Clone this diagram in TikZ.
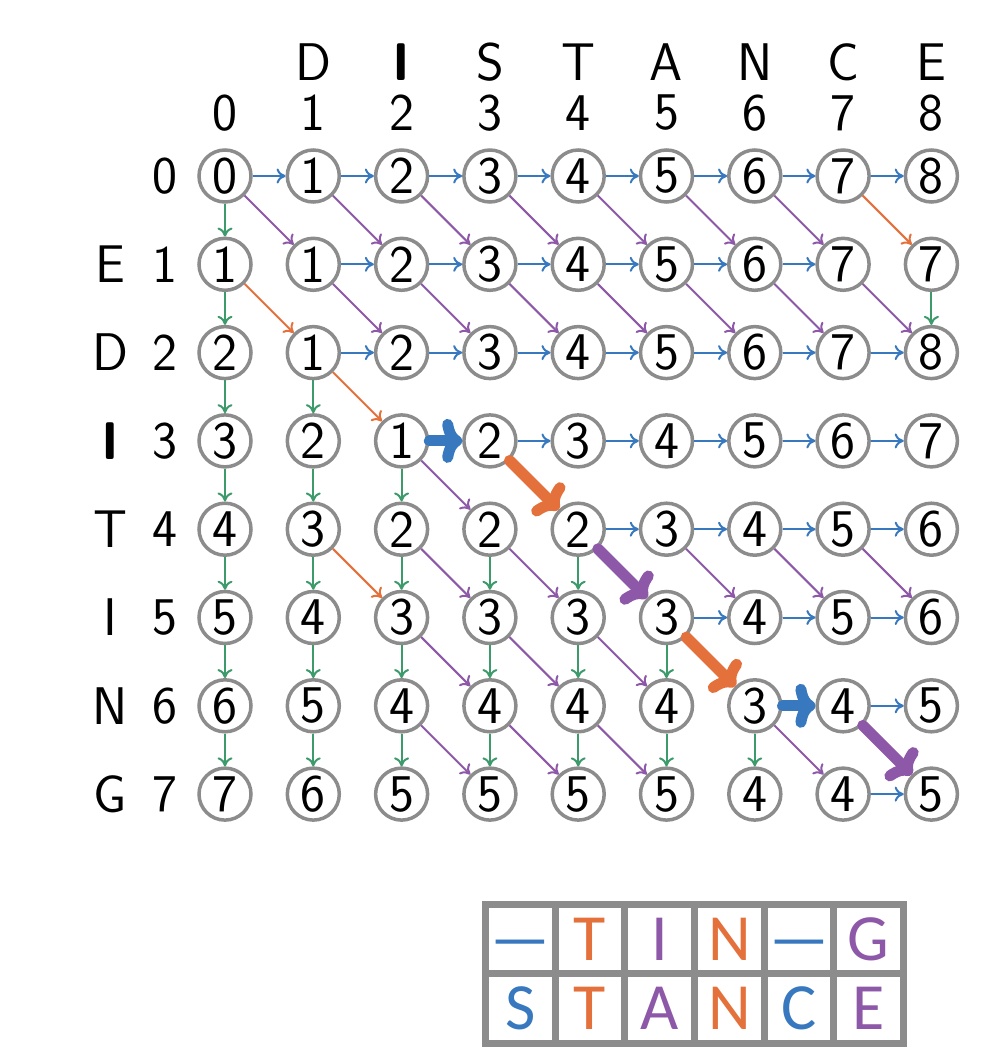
\documentclass[tikz,border=0pt]{standalone}
\usepackage{fontspec}
\newfontfamily\tablefont{Carlito}
\newfontfamily\gridfont{lmsans17-regular.otf}[BoldFont=lmsans10-bold.otf]
\usetikzlibrary{arrows.meta}
\definecolor{gapblue}{RGB}{55,120,190}
\definecolor{matchorange}{RGB}{228,112,60}
\definecolor{mismatchpurple}{RGB}{142,88,168}
\definecolor{delgreen}{RGB}{61,154,107}
\definecolor{ringgray}{RGB}{140,140,140}
\tikzstyle{cell}=[circle, draw=ringgray, line width=3.5pt, minimum size=52pt, inner sep=0pt, fill=white, font=\gridfont\fontsize{53}{60}\selectfont]
\tikzstyle{annot}=[inner sep=0pt, font=\gridfont\fontsize{53}{60}\selectfont]
\tikzstyle{thin}=[line width=2pt, -{Computer Modern Rightarrow[length=9pt,width=15pt]}]
\tikzstyle{fat}=[line width=11pt, line cap=round, -{Computer Modern Rightarrow[length=20pt,width=44pt]}]
\tikzstyle{tabletter}=[inner sep=0pt, text height=42.5pt, text depth=0pt, font=\tablefont\fontsize{66}{70}\selectfont]
\newcommand{\drawalignment}[0]
{
  \draw[line width=7pt, ringgray] (485.5,904.5) rectangle (903.5,1043.5);
  \draw[line width=7pt, ringgray] (485.5,973.5) -- (903.5,973.5);
  \foreach \k in {1,...,5}
    \draw[line width=7pt, ringgray] ({485.5+69.67*\k},904.5) -- ({485.5+69.67*\k},1043.5);
  \foreach \txt/\col [count=\k from 0] in {—/gapblue, T/matchorange, I/mismatchpurple, N/matchorange, —/gapblue, G/mismatchpurple}
    \node[tabletter, text=\col] (top-\k) at ({520.3+69.67*\k},939) {\txt};
  \foreach \txt/\col [count=\k from 0] in {S/gapblue, T/matchorange, A/mismatchpurple, N/matchorange, C/gapblue, E/mismatchpurple}
    \node[tabletter, text=\col] (bot-\k) at ({520.3+69.67*\k},1008.5) {\txt};
}

\begin{document}
\begin{tikzpicture}[x=1pt, y=-1pt]
	\useasboundingbox (0,0) rectangle (994,1062);

	% column and row headers
	\foreach \ch [count=\c] in {D,\textbf{I},S,T,A,N,C,E}
		\node[annot] (word-\c) at ({225+88.3*\c},62) {\ch};
	\foreach \c in {0,...,8}
		\node[annot] (col-\c) at ({225+88.3*\c},113) {\c};
	\foreach \ch [count=\r] in {E,D,\textbf{I},T,I,N,G}
		\node[annot] (word-r\r) at (110,{176+88.3*\r}) {\ch};
	\foreach \r in {0,...,7}
		\node[annot] (row-\r) at (165,{176+88.3*\r}) {\r};

	% distance table
	\foreach \r/\vals in {0/{0,1,2,3,4,5,6,7,8}, 1/{1,1,2,3,4,5,6,7,7}, 2/{2,1,2,3,4,5,6,7,8}, 3/{3,2,1,2,3,4,5,6,7}, 4/{4,3,2,2,2,3,4,5,6}, 5/{5,4,3,3,3,3,4,5,6}, 6/{6,5,4,4,4,4,3,4,5}, 7/{7,6,5,5,5,5,4,4,5}}
		\foreach \v [count=\c from 0] in \vals
			\node[cell] (n-\r-\c) at ({225+88.3*\c},{176+88.3*\r}) {\v};

	\foreach \a/\b in {0-0/0-1, 0-1/0-2, 0-2/0-3, 0-3/0-4, 0-4/0-5, 0-5/0-6, 0-6/0-7, 0-7/0-8, 1-1/1-2, 1-2/1-3, 1-3/1-4, 1-4/1-5, 1-5/1-6, 1-6/1-7, 2-1/2-2, 2-2/2-3, 2-3/2-4, 2-4/2-5, 2-5/2-6, 2-6/2-7, 2-7/2-8, 3-3/3-4, 3-4/3-5, 3-5/3-6, 3-6/3-7, 3-7/3-8, 4-4/4-5, 4-5/4-6, 4-6/4-7, 4-7/4-8, 5-5/5-6, 5-6/5-7, 5-7/5-8, 6-7/6-8, 7-7/7-8}
		\draw[thin, gapblue] (n-\a) -- (n-\b);
	\foreach \a/\b in {0-0/1-0, 1-0/2-0, 2-0/3-0, 3-0/4-0, 4-0/5-0, 5-0/6-0, 6-0/7-0, 2-1/3-1, 3-1/4-1, 4-1/5-1, 5-1/6-1, 6-1/7-1, 3-2/4-2, 4-2/5-2, 5-2/6-2, 6-2/7-2, 4-3/5-3, 5-3/6-3, 6-3/7-3, 4-4/5-4, 5-4/6-4, 6-4/7-4, 5-5/6-5, 6-5/7-5, 6-6/7-6, 1-8/2-8}
		\draw[thin, delgreen] (n-\a) -- (n-\b);
	\foreach \a/\b in {0-7/1-8, 1-0/2-1, 2-1/3-2, 4-1/5-2}
		\draw[thin, matchorange] (n-\a) -- (n-\b);
	\foreach \a/\b in {0-0/1-1, 0-1/1-2, 0-2/1-3, 0-3/1-4, 0-4/1-5, 0-5/1-6, 0-6/1-7, 1-1/2-2, 1-2/2-3, 1-3/2-4, 1-4/2-5, 1-5/2-6, 1-6/2-7, 1-7/2-8, 3-2/4-3, 4-2/5-3, 4-3/5-4, 4-5/5-6, 4-6/5-7, 4-7/5-8, 5-2/6-3, 5-3/6-4, 5-4/6-5, 6-2/7-3, 6-3/7-4, 6-4/7-5, 6-6/7-7}
		\draw[thin, mismatchpurple] (n-\a) -- (n-\b);

	% optimal path
	\draw[fat, gapblue] (n-3-2) -- (n-3-3);
	\draw[fat, matchorange] (n-3-3) -- (n-4-4);
	\draw[fat, mismatchpurple] (n-4-4) -- (n-5-5);
	\draw[fat, matchorange] (n-5-5) -- (n-6-6);
	\draw[fat, gapblue] (n-6-6) -- (n-6-7);
	\draw[fat, mismatchpurple] (n-6-7) -- (n-7-8);

	\drawalignment{}

\end{tikzpicture}
\end{document}
